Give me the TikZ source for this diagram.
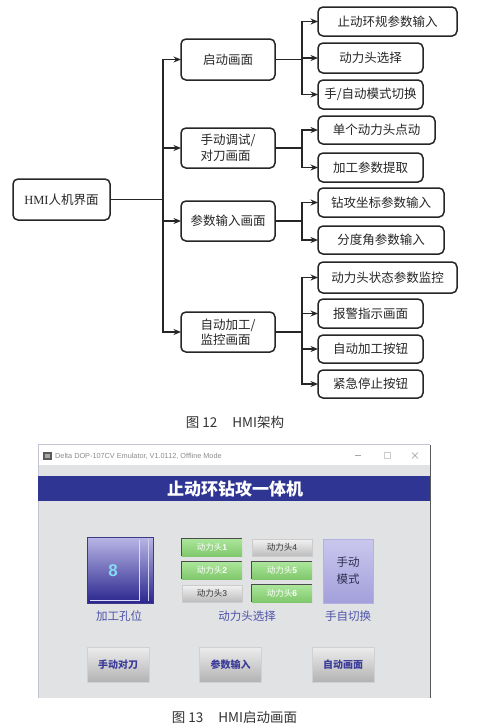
\documentclass[tikz,border=0pt]{standalone}
\usepackage{fontspec}
\setmainfont{Liberation Serif}
\newfontfamily\cjk{Noto Sans CJK SC}
\newfontfamily\lsans{Liberation Sans}
\usetikzlibrary{arrows.meta}
\definecolor{ln}{HTML}{262626}
\definecolor{scrgray}{HTML}{E1E2E4}
\definecolor{band}{HTML}{2F3592}
\definecolor{lbl}{HTML}{4D52A8}
\definecolor{btntxt}{HTML}{3B3B9A}
\definecolor{cap}{HTML}{333333}
\definecolor{holetop}{HTML}{B9B6E6}
\definecolor{holebot}{HTML}{2A268E}
\definecolor{holeedge}{HTML}{3E3A86}
\definecolor{eightc}{HTML}{86D9F2}
\definecolor{greentop}{HTML}{ABE69A}
\definecolor{greenbot}{HTML}{80C76C}
\definecolor{handtop}{HTML}{CAC7EE}
\definecolor{handbot}{HTML}{A39FDB}
\definecolor{handedge}{HTML}{B4B1E2}
\definecolor{handtxt}{HTML}{2E2E4E}
\tikzset{
  treebox/.style={draw=ln, line width=1.5pt, rounded corners=5pt, inner sep=0pt, outer sep=0pt,
    font=\cjk\fontsize{12.5}{15.5}\selectfont, text=ln},
  conn/.style={draw=ln, line width=1.5pt},
  arr/.style={conn, -{Stealth[length=7.5pt,width=6pt]}},
  greenph/.style={minimum width=60pt, minimum height=17pt, inner sep=0pt, top color=greentop, bottom color=greenbot, draw=none, text=white, font=\cjk\fontsize{8.5}{9}\selectfont},
  grayph/.style={minimum width=60pt, minimum height=17pt, inner sep=0pt, top color=white!95!black, bottom color=white!74!black, draw=white!80!black, line width=0.4pt, text=cap, font=\cjk\fontsize{8.5}{9}\selectfont},
  phedge/.style={draw=black!70, line width=1.2pt},
  lowbtn/.style={minimum width=62pt, minimum height=35pt, inner sep=0pt, top color=white!93!black, bottom color=white!70!black, draw=white!82!black, line width=0.5pt, text=btntxt, font=\cjk\bfseries\fontsize{10}{11}\selectfont},
  scrlabel/.style={text=lbl, font=\cjk\fontsize{11.5}{12}\selectfont},
  captext/.style={text=cap, font=\cjk\fontsize{13.5}{14}\selectfont}
}
\begin{document}
\begin{tikzpicture}[x=1pt,y=-1pt]
\useasboundingbox (0,0) rectangle (478,728);
\fill[white] (0,0) rectangle (478,728);

% ---------------- tree ----------------
\node[treebox, minimum width=97pt, minimum height=41pt] (hmi) at (61.5,199.5) {{\rmfamily HMI}人机界面};
\node[treebox, minimum width=94pt, minimum height=41pt] (qd) at (228,59.5) {启动画面};
\node[treebox, minimum width=94pt, minimum height=40pt, align=left] (sd) at (228,148) {手动调试/\\对刀画面};
\node[treebox, minimum width=94pt, minimum height=40pt] (cs) at (228,221) {参数输入画面};
\node[treebox, minimum width=94pt, minimum height=40pt, align=left] (zd) at (228,332) {自动加工/\\监控画面};

\node[treebox, minimum width=139pt, minimum height=29pt] (c1) at (387.5,21.5) {止动环规参数输入};
\node[treebox, minimum width=105pt, minimum height=30pt] (c2) at (370.5,58) {动力头选择};
\node[treebox, minimum width=105pt, minimum height=29pt] (c3) at (370.5,94.5) {手/自动模式切换};
\node[treebox, minimum width=117pt, minimum height=28pt] (c4) at (376.5,130) {单个动力头点动};
\node[treebox, minimum width=105pt, minimum height=29pt] (c5) at (370.5,167.5) {加工参数提取};
\node[treebox, minimum width=126pt, minimum height=29pt] (c6) at (381,202.5) {钻攻坐标参数输入};
\node[treebox, minimum width=126pt, minimum height=28pt] (c7) at (381,240) {分度角参数输入};
\node[treebox, minimum width=139pt, minimum height=31pt] (c8) at (387.5,277.5) {动力头状态参数监控};
\node[treebox, minimum width=105pt, minimum height=29pt] (c9) at (370.5,313.5) {报警指示画面};
\node[treebox, minimum width=105pt, minimum height=28pt] (c10) at (370.5,349) {自动加工按钮};
\node[treebox, minimum width=105pt, minimum height=28pt] (c11) at (370.5,384) {紧急停止按钮};

\draw[conn] (hmi.east) -- (163,199.5) coordinate (t);
\draw[arr] (t) |- (qd);
\draw[arr] (t) |- (sd);
\draw[arr] (t) |- (cs);
\draw[arr] (t) |- (zd);

\draw[conn] (qd.east) -- ++(27,0) coordinate (j1);
\draw[arr] (j1) |- (c1);
\draw[arr] (j1) |- (c2);
\draw[arr] (j1) |- (c3);
\draw[conn] (sd.east) -- ++(27,0) coordinate (j2);
\draw[arr] (j2) |- (c4);
\draw[arr] (j2) |- (c5);
\draw[conn] (cs.east) -- ++(27,0) coordinate (j3);
\draw[arr] (j3) |- (c6);
\draw[arr] (j3) |- (c7);
\draw[conn] (zd.east) -- ++(27,0) coordinate (j4);
\draw[arr] (j4) |- (c8);
\draw[arr] (j4) |- (c9);
\draw[arr] (j4) |- (c10);
\draw[arr] (j4) |- (c11);

\node[captext] (cap12) at (235,422) {图 12\hspace{1.1em}HMI架构};

% ---------------- screenshot ----------------
\fill[scrgray] (38,465) rectangle (430,698);
\fill[white] (38,445) rectangle (430,465);
\draw[blue!15!gray!40, line width=0.6pt] (38,698) -- (38,444.5) -- (430,444.5);
\draw[black!65, line width=1pt] (430,444.5) -- (430,698);
% title bar
\fill[black!65] (43,452) rectangle (52,460);
\fill[black!35] (45,454) rectangle (50,458);
\node[anchor=west, text=black!45, font=\lsans\fontsize{7.3}{8}\selectfont, inner sep=0pt] (wt) at (55,456) {Delta DOP-107CV Emulator, V1.0112, Offline Mode};
\draw[black!35, line width=0.5pt] (355,455.5) -- (361,455.5);
\draw[black!20, line width=0.5pt] (384,452.5) rectangle (390,458.5);
\draw[black!40, line width=0.6pt] (412,452.5) -- (418,458.5) (412,458.5) -- (418,452.5);
% band
\fill[band] (38,476) rectangle (430,501);
\node[text=white, font=\cjk\bfseries\fontsize{17}{18}\selectfont] (ttl) at (235,489) {止动环钻攻一体机};

% hole button
\node[draw=holeedge, line width=1pt, minimum width=66pt, minimum height=66pt, inner sep=0pt,
      top color=holetop, bottom color=holebot] (hole) at (120,570) {};
\draw[white!50!holetop, line width=0.7pt] (139,540) -- (139,600) -- (90,600);
\draw[white!35!holetop, line width=0.7pt] (148,539) -- (148,601);
\node[text=eightc, font=\lsans\bfseries\fontsize{17}{17}\selectfont] (eight) at (113,571) {8};
\node[scrlabel] (l1) at (119,616) {加工孔位};

% power heads
\node[greenph] (p1) at (212,547.5) {动力头{\lsans\bfseries 1}};
\node[greenph] (p2) at (212,570.5) {动力头{\lsans\bfseries 2}};
\node[grayph] (p3) at (212,593.5) {动力头{\lsans 3}};
\node[grayph] (p4) at (282,547.5) {动力头{\lsans 4}};
\node[greenph] (p5) at (282,570.5) {动力头{\lsans\bfseries 5}};
\node[greenph] (p6) at (282,593.5) {动力头{\lsans\bfseries 6}};
\draw[phedge] (p1.south west) -- (p1.north west) -- (p1.north east);
\draw[phedge] (p2.south west) -- (p2.north west) -- (p2.north east);
\draw[phedge] (p5.south west) -- (p5.north west) -- (p5.north east);
\draw[phedge] (p6.south west) -- (p6.north west) -- (p6.north east);
\node[scrlabel] (l2) at (247,616) {动力头选择};

% hand mode
\node[minimum width=50pt, minimum height=64pt, inner sep=0pt, top color=handtop, bottom color=handbot,
      draw=handedge, line width=0.5pt, text=handtxt, align=center,
      font=\cjk\fontsize{11.5}{17}\selectfont] (hm) at (348,571) {手动\\模式};
\node[scrlabel] (l3) at (348,616) {手自切换};

% lower buttons
\node[lowbtn] (b1) at (118,664.5) {手动对刀};
\node[lowbtn] (b2) at (230.5,664.5) {参数输入};
\node[lowbtn] (b3) at (343,664.5) {自动画面};

\node[captext] (cap13) at (234.5,717) {图 13\hspace{1.1em}HMI启动画面};
\end{tikzpicture}
\end{document}
